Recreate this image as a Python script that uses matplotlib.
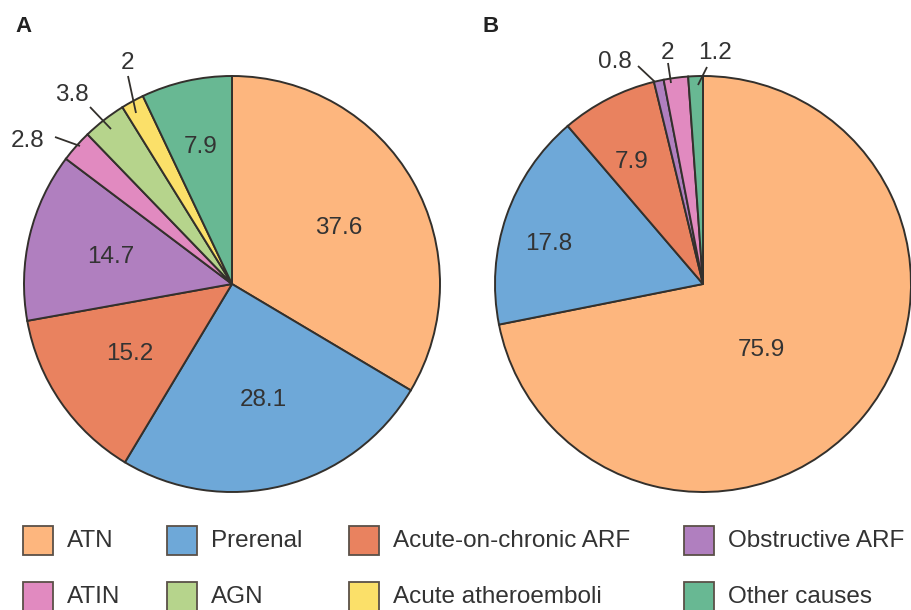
import matplotlib
matplotlib.use('Agg')
import matplotlib.pyplot as plt
from matplotlib.patches import Rectangle

plt.rcParams['font.family'] = ['Liberation Sans', 'DejaVu Sans']

# values as printed in the figure, pie normalises them
valuesA = [37.6, 28.1, 15.2, 14.7, 2.8, 3.8, 2, 7.9]
valuesB = [75.9, 17.8, 7.9, 0.8, 2, 1.2]
labelsA = ['37.6', '28.1', '15.2', '14.7', '2.8', '3.8', '2', '7.9']
labelsB = ['75.9', '17.8', '7.9', '0.8', '2', '1.2']
causes = ['ATN', 'Prerenal', 'Acute-on-chronic ARF', 'Obstructive ARF',
          'ATIN', 'AGN', 'Acute atheroemboli', 'Other causes']

colorOf = {'ATN': '#FDB67E', 'Prerenal': '#6EA8D8', 'Acute-on-chronic ARF': '#E9825F',
           'Obstructive ARF': '#B07FBF', 'ATIN': '#E18AC0', 'AGN': '#B6D48C',
           'Acute atheroemboli': '#FBE069', 'Other causes': '#68B893'}
causesA = causes[:4] + ['ATIN', 'AGN', 'Acute atheroemboli', 'Other causes']
causesB = causes[:4] + ['ATIN', 'Other causes']

W, H = 911, 610
edge = '#33302c'
textCol = '#333333'

fig = plt.figure(figsize=(W / 100, H / 100), dpi=100)
ax = fig.add_axes([0, 0, 1, 1])


def fy(y):
    # picture y (down) to axis y (up)
    return H - y


ax.pie(valuesA, colors=[colorOf[c] for c in causesA], startangle=90, counterclock=False,
       center=(232, fy(284)), radius=208,
       wedgeprops={'edgecolor': edge, 'linewidth': 1.4})
ax.pie(valuesB, colors=[colorOf[c] for c in causesB], startangle=90, counterclock=False,
       center=(703, fy(284)), radius=208,
       wedgeprops={'edgecolor': edge, 'linewidth': 1.4})
ax.set_xlim(0, W)
ax.set_ylim(0, H)
ax.set_aspect('equal')
ax.axis('off')

# value labels
posA = [(339, 228), (263, 400), (130, 354), (111, 257), (28, 141), (72, 95), (128, 63), (201, 147)]
posB = [(761, 350), (549, 244), (632, 162), (615, 62), (668, 53), (715, 53)]
for lab, p in zip(labelsA + labelsB, posA + posB):
    ax.text(p[0], fy(p[1]), lab, fontsize=17.5, color=textCol, ha='center', va='center')

# leader lines for the thin slices
leaders = [((55, 137), (80, 146)), ((90, 107), (111, 129)), ((128, 76), (136, 113)),
           ((638, 66), (655, 82)), ((668, 63), (671, 83)), ((707, 67), (698, 85))]
for a, b in leaders:
    ax.plot([a[0], b[0]], [fy(a[1]), fy(b[1])], color=edge, lw=1.3, solid_capstyle='butt')

ax.text(24, fy(27), 'A', fontsize=16, fontweight='bold', color='#222222', ha='center', va='center')
ax.text(491, fy(27), 'B', fontsize=16, fontweight='bold', color='#222222', ha='center', va='center')

# legend
colX = [23, 167, 349, 684]
rowY = [526, 582]
for i, c in enumerate(causes):
    x = colX[i % 4]
    y = rowY[i // 4]
    ax.add_patch(Rectangle((x, fy(y + 29)), 30, 29, facecolor=colorOf[c],
                           edgecolor='#5a5048', lw=1.3, clip_on=False))
    ax.text(x + 44, fy(y + 15), c, fontsize=17.5, color=textCol, ha='left', va='center')

fig.savefig('out.png', dpi=100)
